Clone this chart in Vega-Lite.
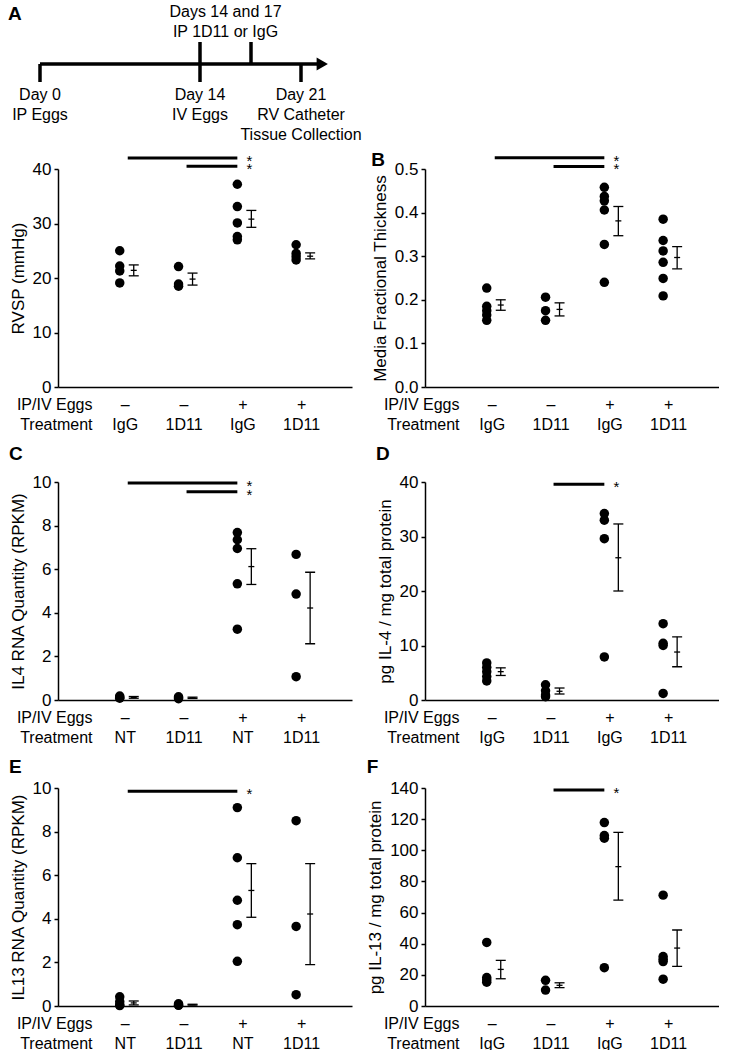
{
  "$schema": "https://vega.github.io/schema/vega-lite/v6.json",
  "padding": {"left": 8, "top": 2, "right": 0, "bottom": 0},
  "background": "white",
  "config": {
    "font": "Liberation Sans",
    "view": {"stroke": null},
    "title": {"fontSize": 19, "fontWeight": "bold", "anchor": "start", "frame": "bounds", "offset": 2, "color": "black"},
    "axis": {"grid": false, "domainColor": "black", "domainWidth": 1.5, "tickColor": "black", "tickWidth": 1.5, "labelColor": "black", "titleColor": "black", "titleFontWeight": "normal", "labelFlush": false, "labelOverlap": false},
    "axisX": {"ticks": false, "tickSize": 0, "labelPadding": 9, "labelFontSize": 16, "labelLineHeight": 20, "titleFontSize": 16, "titleLineHeight": 20, "titleAlign": "right", "titleBaseline": "top", "titleX": 34, "titleY": 9, "labelOffset": 5},
    "axisY": {"labelFontSize": 17, "titleFontSize": 17, "tickSize": 4, "labelPadding": 3, "titlePadding": 5}
  },
  "datasets": {
    "tl_line": [{"start": 0, "end": 22.4, "row": 0}],
    "tl_head": [{"day": 22.7, "row": 0}],
    "tl_ticks": [{"day": 0, "tick": "down", "row": 0}, {"day": 14, "tick": "both", "row": 0}, {"day": 17, "tick": "up", "row": 0}, {"day": 21, "tick": "down", "row": 0}],
    "tl_text": [
      {"day": 15.5, "row": -2, "label": "Days 14 and 17"},
      {"day": 15.5, "row": -1, "label": "IP 1D11 or IgG"},
      {"day": 0, "row": 1, "label": "Day 0"},
      {"day": 0, "row": 2, "label": "IP Eggs"},
      {"day": 14, "row": 1, "label": "Day 14"},
      {"day": 14, "row": 2, "label": "IV Eggs"},
      {"day": 21, "row": 1, "label": "Day 21"},
      {"day": 21, "row": 2, "label": "RV Catheter"},
      {"day": 21, "row": 3, "label": "Tissue Collection"}
    ],
    "tl_letter": [{"day": -2.8, "row": -1.9, "label": "A"}],
    "rvsp_pts": [
      {"g": 1, "v": 25}, {"g": 1, "v": 22.2}, {"g": 1, "v": 21.3}, {"g": 1, "v": 19.1},
      {"g": 2, "v": 22.1}, {"g": 2, "v": 18.9}, {"g": 2, "v": 18.5},
      {"g": 3, "v": 37.2}, {"g": 3, "v": 33.1}, {"g": 3, "v": 30.1}, {"g": 3, "v": 27.6}, {"g": 3, "v": 27},
      {"g": 4, "v": 26.1}, {"g": 4, "v": 24.5}, {"g": 4, "v": 23.9}, {"g": 4, "v": 23.3}
    ],
    "rvsp_err": [
      {"g": 1, "mean": 21.4, "lo": 20.4, "hi": 22.4}, {"g": 2, "mean": 19.8, "lo": 18.7, "hi": 20.9},
      {"g": 3, "mean": 30.8, "lo": 29.3, "hi": 32.4}, {"g": 4, "mean": 24, "lo": 23.5, "hi": 24.6}
    ],
    "rvsp_sig": [{"from": 1, "to": 3, "v": 42}, {"from": 2, "to": 3, "v": 40.5}],
    "mft_pts": [
      {"g": 1, "v": 0.227}, {"g": 1, "v": 0.185}, {"g": 1, "v": 0.175}, {"g": 1, "v": 0.165}, {"g": 1, "v": 0.153},
      {"g": 2, "v": 0.206}, {"g": 2, "v": 0.175}, {"g": 2, "v": 0.153},
      {"g": 3, "v": 0.458}, {"g": 3, "v": 0.437}, {"g": 3, "v": 0.427}, {"g": 3, "v": 0.406}, {"g": 3, "v": 0.327}, {"g": 3, "v": 0.24},
      {"g": 4, "v": 0.385}, {"g": 4, "v": 0.336}, {"g": 4, "v": 0.312}, {"g": 4, "v": 0.286}, {"g": 4, "v": 0.249}, {"g": 4, "v": 0.209}
    ],
    "mft_err": [
      {"g": 1, "mean": 0.188, "lo": 0.176, "hi": 0.2}, {"g": 2, "mean": 0.178, "lo": 0.163, "hi": 0.193},
      {"g": 3, "mean": 0.381, "lo": 0.347, "hi": 0.414}, {"g": 4, "mean": 0.297, "lo": 0.271, "hi": 0.322}
    ],
    "mft_sig": [{"from": 1, "to": 3, "v": 0.526}, {"from": 2, "to": 3, "v": 0.506}],
    "il4r_pts": [
      {"g": 1, "v": 0.18}, {"g": 1, "v": 0.12}, {"g": 1, "v": 0.08},
      {"g": 2, "v": 0.15}, {"g": 2, "v": 0.1}, {"g": 2, "v": 0.06},
      {"g": 3, "v": 7.68}, {"g": 3, "v": 7.35}, {"g": 3, "v": 6.95}, {"g": 3, "v": 5.33}, {"g": 3, "v": 3.25},
      {"g": 4, "v": 6.68}, {"g": 4, "v": 4.86}, {"g": 4, "v": 1.07}
    ],
    "il4r_err": [
      {"g": 1, "mean": 0.12, "lo": 0.08, "hi": 0.16}, {"g": 2, "mean": 0.1, "lo": 0.07, "hi": 0.13},
      {"g": 3, "mean": 6.12, "lo": 5.3, "hi": 6.94}, {"g": 4, "mean": 4.22, "lo": 2.58, "hi": 5.86}
    ],
    "il4r_sig": [{"from": 1, "to": 3, "v": 9.95}, {"from": 2, "to": 3, "v": 9.55}],
    "il4p_pts": [
      {"g": 1, "v": 6.8}, {"g": 1, "v": 6.0}, {"g": 1, "v": 5.2}, {"g": 1, "v": 4.3}, {"g": 1, "v": 3.5},
      {"g": 2, "v": 2.8}, {"g": 2, "v": 1.7}, {"g": 2, "v": 0.9}, {"g": 2, "v": 0.6},
      {"g": 3, "v": 34.2}, {"g": 3, "v": 33.0}, {"g": 3, "v": 29.6}, {"g": 3, "v": 7.9},
      {"g": 4, "v": 14}, {"g": 4, "v": 10.4}, {"g": 4, "v": 10}, {"g": 4, "v": 1.2}
    ],
    "il4p_err": [
      {"g": 1, "mean": 5.2, "lo": 4.5, "hi": 5.9}, {"g": 2, "mean": 1.6, "lo": 1.1, "hi": 2.2},
      {"g": 3, "mean": 26.1, "lo": 20, "hi": 32.3}, {"g": 4, "mean": 8.8, "lo": 6.1, "hi": 11.6}
    ],
    "il4p_sig": [{"from": 2, "to": 3, "v": 39.6}],
    "il13r_pts": [
      {"g": 1, "v": 0.42}, {"g": 1, "v": 0.2}, {"g": 1, "v": 0.05}, {"g": 1, "v": 0.02},
      {"g": 2, "v": 0.1}, {"g": 2, "v": 0.05}, {"g": 2, "v": 0.03},
      {"g": 3, "v": 9.1}, {"g": 3, "v": 6.8}, {"g": 3, "v": 4.85}, {"g": 3, "v": 3.73}, {"g": 3, "v": 2.05},
      {"g": 4, "v": 8.5}, {"g": 4, "v": 3.65}, {"g": 4, "v": 0.52}
    ],
    "il13r_err": [
      {"g": 1, "mean": 0.14, "lo": 0.05, "hi": 0.23}, {"g": 2, "mean": 0.06, "lo": 0.04, "hi": 0.08},
      {"g": 3, "mean": 5.3, "lo": 4.07, "hi": 6.53}, {"g": 4, "mean": 4.22, "lo": 1.9, "hi": 6.53}
    ],
    "il13r_sig": [{"from": 1, "to": 3, "v": 9.85}],
    "il13p_pts": [
      {"g": 1, "v": 40.8}, {"g": 1, "v": 18.3}, {"g": 1, "v": 16.8}, {"g": 1, "v": 15.3},
      {"g": 2, "v": 16.5}, {"g": 2, "v": 10.2},
      {"g": 3, "v": 117.8}, {"g": 3, "v": 109.5}, {"g": 3, "v": 107.8}, {"g": 3, "v": 24.6},
      {"g": 4, "v": 71.2}, {"g": 4, "v": 31.8}, {"g": 4, "v": 30}, {"g": 4, "v": 28.5}, {"g": 4, "v": 17.2}
    ],
    "il13p_err": [
      {"g": 1, "mean": 23.5, "lo": 17.5, "hi": 29.3}, {"g": 2, "mean": 13.3, "lo": 11.8, "hi": 14.9},
      {"g": 3, "mean": 89.5, "lo": 68, "hi": 111.5}, {"g": 4, "mean": 37.2, "lo": 25.5, "hi": 48.8}
    ],
    "il13p_sig": [{"from": 2, "to": 3, "v": 138.7}]
  },
  "spacing": 7,
  "vconcat": [
    {
      "width": 340,
      "height": 135,
      "layer": [
        {
          "data": {"name": "tl_line"},
          "mark": {"type": "rule", "strokeWidth": 3.5, "color": "black"},
          "encoding": {
            "x": {"field": "start", "type": "quantitative", "scale": {"domain": [0, 14, 17, 21], "range": [-18, 142, 193, 243], "nice": false, "zero": false}, "axis": null},
            "x2": {"field": "end"},
            "y": {"field": "row", "type": "quantitative", "scale": {"domain": [-2, -1, 0, 1, 2, 3], "range": [10, 30, 62, 93, 113, 133], "nice": false, "zero": false}, "axis": null}
          }
        },
        {
          "data": {"name": "tl_head"},
          "mark": {"type": "point", "shape": "triangle-right", "filled": true, "color": "black", "opacity": 1, "size": 170, "strokeWidth": 0},
          "encoding": {
            "x": {"field": "day", "type": "quantitative", "scale": {"domain": [0, 14, 17, 21], "range": [-18, 142, 193, 243], "nice": false, "zero": false}, "axis": null},
            "y": {"field": "row", "type": "quantitative", "scale": {"domain": [-2, -1, 0, 1, 2, 3], "range": [10, 30, 62, 93, 113, 133], "nice": false, "zero": false}, "axis": null}
          }
        },
        {
          "data": {"name": "tl_ticks"},
          "transform": [{"filter": "datum.tick == 'down'"}],
          "mark": {"type": "tick", "orient": "vertical", "size": 18, "thickness": 3.5, "yOffset": 9, "color": "black", "opacity": 1},
          "encoding": {
            "x": {"field": "day", "type": "quantitative", "scale": {"domain": [0, 14, 17, 21], "range": [-18, 142, 193, 243], "nice": false, "zero": false}, "axis": null},
            "y": {"field": "row", "type": "quantitative", "scale": {"domain": [-2, -1, 0, 1, 2, 3], "range": [10, 30, 62, 93, 113, 133], "nice": false, "zero": false}, "axis": null}
          }
        },
        {
          "data": {"name": "tl_ticks"},
          "transform": [{"filter": "datum.tick == 'both'"}],
          "mark": {"type": "tick", "orient": "vertical", "size": 40, "thickness": 3.5, "yOffset": -2, "color": "black", "opacity": 1},
          "encoding": {
            "x": {"field": "day", "type": "quantitative", "scale": {"domain": [0, 14, 17, 21], "range": [-18, 142, 193, 243], "nice": false, "zero": false}, "axis": null},
            "y": {"field": "row", "type": "quantitative", "scale": {"domain": [-2, -1, 0, 1, 2, 3], "range": [10, 30, 62, 93, 113, 133], "nice": false, "zero": false}, "axis": null}
          }
        },
        {
          "data": {"name": "tl_ticks"},
          "transform": [{"filter": "datum.tick == 'up'"}],
          "mark": {"type": "tick", "orient": "vertical", "size": 22, "thickness": 3.5, "yOffset": -11, "color": "black", "opacity": 1},
          "encoding": {
            "x": {"field": "day", "type": "quantitative", "scale": {"domain": [0, 14, 17, 21], "range": [-18, 142, 193, 243], "nice": false, "zero": false}, "axis": null},
            "y": {"field": "row", "type": "quantitative", "scale": {"domain": [-2, -1, 0, 1, 2, 3], "range": [10, 30, 62, 93, 113, 133], "nice": false, "zero": false}, "axis": null}
          }
        },
        {
          "data": {"name": "tl_text"},
          "mark": {"type": "text", "fontSize": 16, "align": "center", "baseline": "middle", "color": "black"},
          "encoding": {
            "x": {"field": "day", "type": "quantitative", "scale": {"domain": [0, 14, 17, 21], "range": [-18, 142, 193, 243], "nice": false, "zero": false}, "axis": null},
            "y": {"field": "row", "type": "quantitative", "scale": {"domain": [-2, -1, 0, 1, 2, 3], "range": [10, 30, 62, 93, 113, 133], "nice": false, "zero": false}, "axis": null},
            "text": {"field": "label"}
          }
        },
        {
          "data": {"name": "tl_letter"},
          "mark": {"type": "text", "fontSize": 19, "fontWeight": "bold", "align": "left", "baseline": "middle", "color": "black"},
          "encoding": {
            "x": {"field": "day", "type": "quantitative", "scale": {"domain": [0, 14, 17, 21], "range": [-18, 142, 193, 243], "nice": false, "zero": false}, "axis": null},
            "y": {"field": "row", "type": "quantitative", "scale": {"domain": [-2, -1, 0, 1, 2, 3], "range": [10, 30, 62, 93, 113, 133], "nice": false, "zero": false}, "axis": null},
            "text": {"field": "label"}
          }
        }
      ]
    },
    {
      "columns": 2,
      "spacing": {"row": 13, "column": 14},
      "concat": [
        {
          "title": {"text": " ", "offset": -16},
          "width": 294, "height": 218,
          "encoding": {
            "x": {"field": "g", "type": "quantitative", "scale": {"domain": [-0.05, 4.95], "nice": false, "zero": false}, "axis": {"values": [1, 2, 3, 4], "labelExpr": "[datum.value <= 2 ? '–' : '+', datum.value % 2 == 1 ? 'IgG' : '1D11']", "title": ["IP/IV Eggs", "Treatment"]}},
            "y": {"field": "v", "type": "quantitative", "scale": {"domain": [0, 40], "nice": false}, "axis": {"values": [0, 10, 20, 30, 40], "title": "RVSP (mmHg)"}}
          },
          "layer": [
            {"data": {"name": "rvsp_pts"}, "mark": {"type": "point", "filled": true, "color": "black", "opacity": 1, "size": 90, "strokeWidth": 0}},
            {"data": {"name": "rvsp_err"}, "mark": {"type": "rule", "xOffset": 14, "strokeWidth": 1.3, "color": "black"},
             "encoding": {"y": {"field": "lo", "type": "quantitative", "scale": {"domain": [0, 40], "nice": false}}, "y2": {"field": "hi"}}},
            {"data": {"name": "rvsp_err"}, "transform": [{"fold": ["lo", "hi"], "as": ["k", "val"]}], "mark": {"type": "tick", "orient": "horizontal", "xOffset": 14, "size": 10, "thickness": 1.3, "color": "black", "opacity": 1},
             "encoding": {"y": {"field": "val", "type": "quantitative", "scale": {"domain": [0, 40], "nice": false}}}},
            {"data": {"name": "rvsp_err"}, "mark": {"type": "tick", "orient": "horizontal", "xOffset": 14, "size": 6, "thickness": 1.3, "color": "black", "opacity": 1},
             "encoding": {"y": {"field": "mean", "type": "quantitative", "scale": {"domain": [0, 40], "nice": false}}}},
            {"data": {"name": "rvsp_sig"}, "mark": {"type": "rule", "strokeWidth": 3, "xOffset": 8, "color": "black"},
             "encoding": {"x": {"field": "from", "type": "quantitative", "scale": {"domain": [-0.05, 4.95], "nice": false, "zero": false}}, "x2": {"field": "to"}, "y": {"field": "v", "type": "quantitative", "scale": {"domain": [0, 40], "nice": false}}}},
            {"data": {"name": "rvsp_sig"}, "mark": {"type": "text", "text": "*", "dx": 12, "dy": 3, "fontSize": 15, "color": "black"},
             "encoding": {"x": {"field": "to", "type": "quantitative", "scale": {"domain": [-0.05, 4.95], "nice": false, "zero": false}}, "y": {"field": "v", "type": "quantitative", "scale": {"domain": [0, 40], "nice": false}}}}
          ]
        },
        {
          "title": {"text": "B", "offset": -16},
          "width": 294, "height": 218,
          "encoding": {
            "x": {"field": "g", "type": "quantitative", "scale": {"domain": [-0.05, 4.95], "nice": false, "zero": false}, "axis": {"values": [1, 2, 3, 4], "labelExpr": "[datum.value <= 2 ? '–' : '+', datum.value % 2 == 1 ? 'IgG' : '1D11']", "title": ["IP/IV Eggs", "Treatment"]}},
            "y": {"field": "v", "type": "quantitative", "scale": {"domain": [0, 0.5], "nice": false}, "axis": {"values": [0, 0.1, 0.2, 0.3, 0.4, 0.5], "format": ".1f", "title": "Media Fractional Thickness"}}
          },
          "layer": [
            {"data": {"name": "mft_pts"}, "mark": {"type": "point", "filled": true, "color": "black", "opacity": 1, "size": 90, "strokeWidth": 0}},
            {"data": {"name": "mft_err"}, "mark": {"type": "rule", "xOffset": 14, "strokeWidth": 1.3, "color": "black"},
             "encoding": {"y": {"field": "lo", "type": "quantitative", "scale": {"domain": [0, 0.5], "nice": false}}, "y2": {"field": "hi"}}},
            {"data": {"name": "mft_err"}, "transform": [{"fold": ["lo", "hi"], "as": ["k", "val"]}], "mark": {"type": "tick", "orient": "horizontal", "xOffset": 14, "size": 10, "thickness": 1.3, "color": "black", "opacity": 1},
             "encoding": {"y": {"field": "val", "type": "quantitative", "scale": {"domain": [0, 0.5], "nice": false}}}},
            {"data": {"name": "mft_err"}, "mark": {"type": "tick", "orient": "horizontal", "xOffset": 14, "size": 6, "thickness": 1.3, "color": "black", "opacity": 1},
             "encoding": {"y": {"field": "mean", "type": "quantitative", "scale": {"domain": [0, 0.5], "nice": false}}}},
            {"data": {"name": "mft_sig"}, "mark": {"type": "rule", "strokeWidth": 3, "xOffset": 8, "color": "black"},
             "encoding": {"x": {"field": "from", "type": "quantitative", "scale": {"domain": [-0.05, 4.95], "nice": false, "zero": false}}, "x2": {"field": "to"}, "y": {"field": "v", "type": "quantitative", "scale": {"domain": [0, 0.5], "nice": false}}}},
            {"data": {"name": "mft_sig"}, "mark": {"type": "text", "text": "*", "dx": 12, "dy": 3, "fontSize": 15, "color": "black"},
             "encoding": {"x": {"field": "to", "type": "quantitative", "scale": {"domain": [-0.05, 4.95], "nice": false, "zero": false}}, "y": {"field": "v", "type": "quantitative", "scale": {"domain": [0, 0.5], "nice": false}}}}
          ]
        },
        {
          "title": {"text": "C", "offset": 9},
          "width": 294, "height": 218,
          "encoding": {
            "x": {"field": "g", "type": "quantitative", "scale": {"domain": [-0.05, 4.95], "nice": false, "zero": false}, "axis": {"values": [1, 2, 3, 4], "labelExpr": "[datum.value <= 2 ? '–' : '+', datum.value % 2 == 1 ? 'NT' : '1D11']", "title": ["IP/IV Eggs", "Treatment"]}},
            "y": {"field": "v", "type": "quantitative", "scale": {"domain": [0, 10], "nice": false}, "axis": {"values": [0, 2, 4, 6, 8, 10], "title": "IL4 RNA Quantity (RPKM)"}}
          },
          "layer": [
            {"data": {"name": "il4r_pts"}, "mark": {"type": "point", "filled": true, "color": "black", "opacity": 1, "size": 90, "strokeWidth": 0}},
            {"data": {"name": "il4r_err"}, "mark": {"type": "rule", "xOffset": 14, "strokeWidth": 1.3, "color": "black"},
             "encoding": {"y": {"field": "lo", "type": "quantitative", "scale": {"domain": [0, 10], "nice": false}}, "y2": {"field": "hi"}}},
            {"data": {"name": "il4r_err"}, "transform": [{"fold": ["lo", "hi"], "as": ["k", "val"]}], "mark": {"type": "tick", "orient": "horizontal", "xOffset": 14, "size": 10, "thickness": 1.3, "color": "black", "opacity": 1},
             "encoding": {"y": {"field": "val", "type": "quantitative", "scale": {"domain": [0, 10], "nice": false}}}},
            {"data": {"name": "il4r_err"}, "mark": {"type": "tick", "orient": "horizontal", "xOffset": 14, "size": 6, "thickness": 1.3, "color": "black", "opacity": 1},
             "encoding": {"y": {"field": "mean", "type": "quantitative", "scale": {"domain": [0, 10], "nice": false}}}},
            {"data": {"name": "il4r_sig"}, "mark": {"type": "rule", "strokeWidth": 3, "xOffset": 8, "color": "black"},
             "encoding": {"x": {"field": "from", "type": "quantitative", "scale": {"domain": [-0.05, 4.95], "nice": false, "zero": false}}, "x2": {"field": "to"}, "y": {"field": "v", "type": "quantitative", "scale": {"domain": [0, 10], "nice": false}}}},
            {"data": {"name": "il4r_sig"}, "mark": {"type": "text", "text": "*", "dx": 12, "dy": 3, "fontSize": 15, "color": "black"},
             "encoding": {"x": {"field": "to", "type": "quantitative", "scale": {"domain": [-0.05, 4.95], "nice": false, "zero": false}}, "y": {"field": "v", "type": "quantitative", "scale": {"domain": [0, 10], "nice": false}}}}
          ]
        },
        {
          "title": {"text": "D", "offset": 9},
          "width": 294, "height": 218,
          "encoding": {
            "x": {"field": "g", "type": "quantitative", "scale": {"domain": [-0.05, 4.95], "nice": false, "zero": false}, "axis": {"values": [1, 2, 3, 4], "labelExpr": "[datum.value <= 2 ? '–' : '+', datum.value % 2 == 1 ? 'IgG' : '1D11']", "title": ["IP/IV Eggs", "Treatment"]}},
            "y": {"field": "v", "type": "quantitative", "scale": {"domain": [0, 40], "nice": false}, "axis": {"values": [0, 10, 20, 30, 40], "title": "pg IL-4 / mg total protein"}}
          },
          "layer": [
            {"data": {"name": "il4p_pts"}, "mark": {"type": "point", "filled": true, "color": "black", "opacity": 1, "size": 90, "strokeWidth": 0}},
            {"data": {"name": "il4p_err"}, "mark": {"type": "rule", "xOffset": 14, "strokeWidth": 1.3, "color": "black"},
             "encoding": {"y": {"field": "lo", "type": "quantitative", "scale": {"domain": [0, 40], "nice": false}}, "y2": {"field": "hi"}}},
            {"data": {"name": "il4p_err"}, "transform": [{"fold": ["lo", "hi"], "as": ["k", "val"]}], "mark": {"type": "tick", "orient": "horizontal", "xOffset": 14, "size": 10, "thickness": 1.3, "color": "black", "opacity": 1},
             "encoding": {"y": {"field": "val", "type": "quantitative", "scale": {"domain": [0, 40], "nice": false}}}},
            {"data": {"name": "il4p_err"}, "mark": {"type": "tick", "orient": "horizontal", "xOffset": 14, "size": 6, "thickness": 1.3, "color": "black", "opacity": 1},
             "encoding": {"y": {"field": "mean", "type": "quantitative", "scale": {"domain": [0, 40], "nice": false}}}},
            {"data": {"name": "il4p_sig"}, "mark": {"type": "rule", "strokeWidth": 3, "xOffset": 8, "color": "black"},
             "encoding": {"x": {"field": "from", "type": "quantitative", "scale": {"domain": [-0.05, 4.95], "nice": false, "zero": false}}, "x2": {"field": "to"}, "y": {"field": "v", "type": "quantitative", "scale": {"domain": [0, 40], "nice": false}}}},
            {"data": {"name": "il4p_sig"}, "mark": {"type": "text", "text": "*", "dx": 12, "dy": 3, "fontSize": 15, "color": "black"},
             "encoding": {"x": {"field": "to", "type": "quantitative", "scale": {"domain": [-0.05, 4.95], "nice": false, "zero": false}}, "y": {"field": "v", "type": "quantitative", "scale": {"domain": [0, 40], "nice": false}}}}
          ]
        },
        {
          "title": {"text": "E"},
          "width": 294, "height": 218,
          "encoding": {
            "x": {"field": "g", "type": "quantitative", "scale": {"domain": [-0.05, 4.95], "nice": false, "zero": false}, "axis": {"values": [1, 2, 3, 4], "labelExpr": "[datum.value <= 2 ? '–' : '+', datum.value % 2 == 1 ? 'NT' : '1D11']", "title": ["IP/IV Eggs", "Treatment"]}},
            "y": {"field": "v", "type": "quantitative", "scale": {"domain": [0, 10], "nice": false}, "axis": {"values": [0, 2, 4, 6, 8, 10], "title": "IL13 RNA Quantity (RPKM)"}}
          },
          "layer": [
            {"data": {"name": "il13r_pts"}, "mark": {"type": "point", "filled": true, "color": "black", "opacity": 1, "size": 90, "strokeWidth": 0}},
            {"data": {"name": "il13r_err"}, "mark": {"type": "rule", "xOffset": 14, "strokeWidth": 1.3, "color": "black"},
             "encoding": {"y": {"field": "lo", "type": "quantitative", "scale": {"domain": [0, 10], "nice": false}}, "y2": {"field": "hi"}}},
            {"data": {"name": "il13r_err"}, "transform": [{"fold": ["lo", "hi"], "as": ["k", "val"]}], "mark": {"type": "tick", "orient": "horizontal", "xOffset": 14, "size": 10, "thickness": 1.3, "color": "black", "opacity": 1},
             "encoding": {"y": {"field": "val", "type": "quantitative", "scale": {"domain": [0, 10], "nice": false}}}},
            {"data": {"name": "il13r_err"}, "mark": {"type": "tick", "orient": "horizontal", "xOffset": 14, "size": 6, "thickness": 1.3, "color": "black", "opacity": 1},
             "encoding": {"y": {"field": "mean", "type": "quantitative", "scale": {"domain": [0, 10], "nice": false}}}},
            {"data": {"name": "il13r_sig"}, "mark": {"type": "rule", "strokeWidth": 3, "xOffset": 8, "color": "black"},
             "encoding": {"x": {"field": "from", "type": "quantitative", "scale": {"domain": [-0.05, 4.95], "nice": false, "zero": false}}, "x2": {"field": "to"}, "y": {"field": "v", "type": "quantitative", "scale": {"domain": [0, 10], "nice": false}}}},
            {"data": {"name": "il13r_sig"}, "mark": {"type": "text", "text": "*", "dx": 12, "dy": 3, "fontSize": 15, "color": "black"},
             "encoding": {"x": {"field": "to", "type": "quantitative", "scale": {"domain": [-0.05, 4.95], "nice": false, "zero": false}}, "y": {"field": "v", "type": "quantitative", "scale": {"domain": [0, 10], "nice": false}}}}
          ]
        },
        {
          "title": {"text": "F"},
          "width": 294, "height": 218,
          "encoding": {
            "x": {"field": "g", "type": "quantitative", "scale": {"domain": [-0.05, 4.95], "nice": false, "zero": false}, "axis": {"values": [1, 2, 3, 4], "labelExpr": "[datum.value <= 2 ? '–' : '+', datum.value % 2 == 1 ? 'IgG' : '1D11']", "title": ["IP/IV Eggs", "Treatment"]}},
            "y": {"field": "v", "type": "quantitative", "scale": {"domain": [0, 140], "nice": false}, "axis": {"values": [0, 20, 40, 60, 80, 100, 120, 140], "title": "pg IL-13 / mg total protein"}}
          },
          "layer": [
            {"data": {"name": "il13p_pts"}, "mark": {"type": "point", "filled": true, "color": "black", "opacity": 1, "size": 90, "strokeWidth": 0}},
            {"data": {"name": "il13p_err"}, "mark": {"type": "rule", "xOffset": 14, "strokeWidth": 1.3, "color": "black"},
             "encoding": {"y": {"field": "lo", "type": "quantitative", "scale": {"domain": [0, 140], "nice": false}}, "y2": {"field": "hi"}}},
            {"data": {"name": "il13p_err"}, "transform": [{"fold": ["lo", "hi"], "as": ["k", "val"]}], "mark": {"type": "tick", "orient": "horizontal", "xOffset": 14, "size": 10, "thickness": 1.3, "color": "black", "opacity": 1},
             "encoding": {"y": {"field": "val", "type": "quantitative", "scale": {"domain": [0, 140], "nice": false}}}},
            {"data": {"name": "il13p_err"}, "mark": {"type": "tick", "orient": "horizontal", "xOffset": 14, "size": 6, "thickness": 1.3, "color": "black", "opacity": 1},
             "encoding": {"y": {"field": "mean", "type": "quantitative", "scale": {"domain": [0, 140], "nice": false}}}},
            {"data": {"name": "il13p_sig"}, "mark": {"type": "rule", "strokeWidth": 3, "xOffset": 8, "color": "black"},
             "encoding": {"x": {"field": "from", "type": "quantitative", "scale": {"domain": [-0.05, 4.95], "nice": false, "zero": false}}, "x2": {"field": "to"}, "y": {"field": "v", "type": "quantitative", "scale": {"domain": [0, 140], "nice": false}}}},
            {"data": {"name": "il13p_sig"}, "mark": {"type": "text", "text": "*", "dx": 12, "dy": 3, "fontSize": 15, "color": "black"},
             "encoding": {"x": {"field": "to", "type": "quantitative", "scale": {"domain": [-0.05, 4.95], "nice": false, "zero": false}}, "y": {"field": "v", "type": "quantitative", "scale": {"domain": [0, 140], "nice": false}}}}
          ]
        }
      ]
    }
  ]
}
